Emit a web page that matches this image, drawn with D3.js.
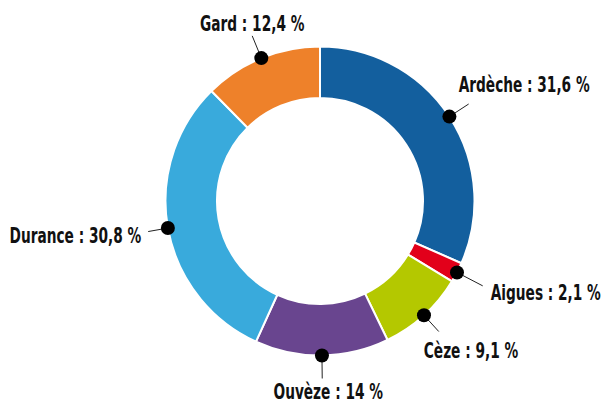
<!DOCTYPE html>
<html><head><meta charset="utf-8">
<script src="https://cdn.jsdelivr.net/npm/d3@7"></script>
<style>body{margin:0;background:#fff}svg{display:block}</style>
</head><body>
<svg id="c" width="605" height="401"></svg>
<script>
const categories = ["Ardèche", "Aigues", "Cèze", "Ouvèze", "Durance", "Gard"];
const values = [31.6, 2.1, 9.1, 14, 30.8, 12.4];
const valueLabels = ["31,6", "2,1", "9,1", "14", "30,8", "12,4"];
const colors = ["#135f9e", "#e2001a", "#b4c800", "#69458f", "#39aadc", "#ee812a"];
// label layout relative to leader-line end: [dx, dy, anchor, lineLength]
const labelLayout = [
  [-10, -12, "start", 23],
  [8, 14, "start", 29],
  [-15, 26, "start", 22],
  [6, 21, "middle", 23],
  [-7, 11, "end", 20],
  [0, -5, "middle", 24]
];

const W = 605, H = 401, cx = 320, cy = 201, R = 154.5, r = 103;
const svg = d3.select("#c");
const g = svg.append("g").attr("transform", `translate(${cx},${cy})`);
const data = categories.map((c, i) => ({name: c, value: values[i], label: valueLabels[i], color: colors[i], lay: labelLayout[i]}));
const pie = d3.pie().value(d => d.value).sort(null);
const arcs = pie(data);
const arc = d3.arc().innerRadius(r).outerRadius(R);
g.selectAll("path").data(arcs).join("path")
  .attr("d", arc).attr("fill", d => d.data.color)
  .attr("stroke", "#fff").attr("stroke-width", 2);

const texts = [];
arcs.forEach(a => {
  const ang = (a.startAngle + a.endAngle) / 2;
  const ux = Math.sin(ang), uy = -Math.cos(ang);
  const x0 = ux * R, y0 = uy * R;
  const L = a.data.lay[3];
  const x1 = ux * (R + L), y1 = uy * (R + L);
  g.append("line").attr("x1", x0).attr("y1", y0).attr("x2", x1).attr("y2", y1)
    .attr("stroke", "#222").attr("stroke-width", 1);
  g.append("circle").attr("cx", x0).attr("cy", y0).attr("r", 7).attr("fill", "#000");
  const t = g.append("text").attr("x", x1 + a.data.lay[0]).attr("y", y1 + a.data.lay[1])
    .attr("text-anchor", a.data.lay[2])
    .attr("font-family", "'DejaVu Sans Condensed', 'DejaVu Sans', sans-serif")
    .attr("font-stretch", "condensed")
    .attr("font-weight", "bold").attr("font-size", 21.5).attr("fill", "#111")
    .text(`${a.data.name} : ${a.data.label} %`);
  texts.push(t);
});
// condense text horizontally to match a narrow display face
const ref = texts[0].node().getComputedTextLength();
const k = 131 / ref;
texts.forEach(t => {
  const w = t.node().getComputedTextLength();
  t.attr("textLength", w * k).attr("lengthAdjust", "spacingAndGlyphs");
});
</script>
</body></html>
